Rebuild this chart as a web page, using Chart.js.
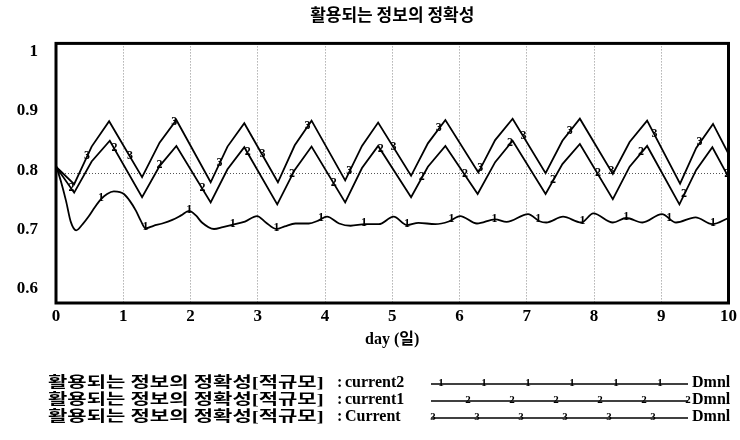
<!DOCTYPE html>
<html>
<head>
<meta charset="utf-8">
<script src="https://cdn.jsdelivr.net/npm/chart.js@4"></script>
<style>
  html, body { margin: 0; padding: 0; background: #fff; }
  #wrap { width: 740px; height: 440px; }
</style>
</head>
<body>
<div id="wrap"><canvas id="c" width="740" height="440"></canvas></div>
<script>
// ---------- data ----------
const chartTitle = '활용되는 정보의 정확성';
const xTitle = 'day (일)';
const unitLabel = 'Dmnl';
const seriesNames = [
  '활용되는 정보의 정확성[적규모] : current2',
  '활용되는 정보의 정확성[적규모] : current1',
  '활용되는 정보의 정확성[적규모] : Current'
];
const xTicks = [0, 1, 2, 3, 4, 5, 6, 7, 8, 9, 10];
const yTicks = [0.6, 0.7, 0.8, 0.9, 1.0];

// series "1" (current2)
const s1Days = [0, 0.08, 0.15, 0.22, 0.30, 0.40, 0.49, 0.58, 0.67, 0.76, 0.86, 0.95, 1.01, 1.10, 1.19, 1.26, 1.33,
  1.45, 1.58, 1.73, 1.86, 1.98, 2.08, 2.17, 2.35, 2.48, 2.62, 2.81, 2.99, 3.12, 3.28, 3.40, 3.56, 3.76, 3.90,
  4.03, 4.21, 4.38, 4.60, 4.80, 5.02, 5.22, 5.39, 5.64, 5.84, 6.01, 6.26, 6.53, 6.70, 7.02, 7.19, 7.29, 7.54,
  7.81, 7.99, 8.28, 8.48, 8.72, 9.01, 9.22, 9.51, 9.76, 10.0];
const s1Vals = [0.812, 0.785, 0.757, 0.725, 0.712, 0.722, 0.734, 0.748, 0.760, 0.768, 0.772, 0.771, 0.768, 0.757, 0.742, 0.727, 0.715,
  0.719, 0.7225, 0.728, 0.735, 0.742, 0.735, 0.724, 0.714, 0.717, 0.7205, 0.7255, 0.734, 0.724, 0.714, 0.718, 0.7225, 0.7225, 0.727,
  0.733, 0.7225, 0.719, 0.7215, 0.7215, 0.733, 0.720, 0.7235, 0.7215, 0.7256, 0.734, 0.7225, 0.729, 0.725, 0.737, 0.726, 0.724, 0.733,
  0.724, 0.738, 0.724, 0.731, 0.724, 0.737, 0.724, 0.732, 0.7215, 0.731];

// series "2" (current1)
const s2Days = [0, 0.27, 0.53, 0.80, 1.28, 1.54, 1.79, 2.30, 2.55, 2.80, 3.29, 3.55, 3.80, 4.30, 4.55, 4.79,
  5.28, 5.53, 5.79, 6.27, 6.53, 6.79, 7.28, 7.53, 7.79, 8.28, 8.53, 8.79, 9.27, 9.52, 9.76, 10.0];
const s2Vals = [0.81, 0.770, 0.818, 0.850, 0.763, 0.811, 0.842, 0.755, 0.806, 0.840, 0.752, 0.805, 0.841, 0.755, 0.808, 0.842,
  0.763, 0.810, 0.842, 0.768, 0.817, 0.850, 0.768, 0.814, 0.845, 0.760, 0.810, 0.842, 0.752, 0.805, 0.840, 0.794];

// series "3" (Current)
const s3Days = [0, 0.27, 0.53, 0.79, 1.28, 1.54, 1.79, 2.30, 2.55, 2.80, 3.30, 3.55, 3.80, 4.30, 4.55, 4.79,
  5.28, 5.53, 5.79, 6.28, 6.53, 6.79, 7.28, 7.53, 7.79, 8.28, 8.53, 8.79, 9.28, 9.52, 9.77, 10.0];
const s3Vals = [0.81, 0.783, 0.841, 0.880, 0.794, 0.847, 0.882, 0.786, 0.841, 0.877, 0.786, 0.843, 0.881, 0.789, 0.842, 0.878,
  0.796, 0.846, 0.882, 0.801, 0.851, 0.884, 0.800, 0.850, 0.884, 0.799, 0.848, 0.881, 0.784, 0.839, 0.876, 0.830];

// where the series numbers are printed along each line (days)
const s1MarkDays = [0.67, 1.33, 1.98, 2.63, 3.28, 3.94, 4.58, 5.22, 5.88, 6.52, 7.17, 7.83, 8.48, 9.12, 9.77];
const s2MarkDays = [0.23, 0.87, 1.54, 2.18, 2.85, 3.51, 4.13, 4.83, 5.44, 6.08, 6.75, 7.39, 8.06, 8.70, 9.34, 9.98];
const s3MarkDays = [0.46, 1.10, 1.76, 2.43, 3.07, 3.74, 4.36, 5.02, 5.69, 6.31, 6.95, 7.64, 8.26, 8.90, 9.57];

// ---------- chart ----------
const SERIF = '"Liberation Serif", "Noto Sans CJK KR", serif';
const KR = '"Noto Sans CJK KR", "Liberation Serif", sans-serif';

const seriesDays = [s1Days, s2Days, s3Days];
const seriesVals = [s1Vals, s2Vals, s3Vals];
const markDays = [s1MarkDays, s2MarkDays, s3MarkDays];

function toPoints(d, v) { return d.map((t, i) => ({ x: t, y: v[i] })); }
function interp(d, v, t) {
  for (let i = 1; i < d.length; i++) {
    if (t <= d[i]) {
      const f = (t - d[i - 1]) / (d[i] - d[i - 1]);
      return v[i - 1] + f * (v[i] - v[i - 1]);
    }
  }
  return v[v.length - 1];
}

const markerPlugin = {
  id: 'lineNumbers',
  afterDatasetsDraw(chart) {
    const ctx = chart.ctx, xs = chart.scales.x, ys = chart.scales.y;
    ctx.save();
    ctx.font = 'bold 12px "Liberation Serif"';
    ctx.fillStyle = '#000';
    ctx.textAlign = 'center';
    ctx.textBaseline = 'middle';
    markDays.forEach((arr, i) => {
      arr.forEach(t => {
        const v = interp(seriesDays[i], seriesVals[i], t);
        ctx.fillText(String(i + 1), xs.getPixelForValue(t), ys.getPixelForValue(v) - 1);
      });
    });
    ctx.restore();
  }
};

const framePlugin = {
  id: 'frame',
  afterDraw(chart) {
    const a = chart.chartArea, ctx = chart.ctx;
    ctx.save();
    ctx.strokeStyle = '#000';
    ctx.lineWidth = 3;
    ctx.strokeRect(a.left, a.top, a.right - a.left, a.bottom - a.top);
    ctx.restore();
  }
};

const legendPlugin = {
  id: 'legendRows',
  afterDraw(chart) {
    const ctx = chart.ctx;
    const rowY = [383, 400, 417];
    const markX = [
      [441, 484, 528, 572, 616, 660],
      [468, 512, 556, 600, 644, 688],
      [433, 477, 521, 565, 609, 653]
    ];
    ctx.save();
    chart.data.datasets.forEach((ds, i) => {
      const y = rowY[i];
      const cut = ds.label.indexOf(']') + 1;
      const head = ds.label.slice(0, cut);
      const tail = ds.label.slice(cut).replace(/^\s*:\s*/, '');
      ctx.fillStyle = '#000';
      ctx.textBaseline = 'middle';
      ctx.textAlign = 'left';
      ctx.font = 'bold 15px ' + SERIF;
      const w = ctx.measureText(head).width;
      const sx = Math.max(1, Math.min(1.4, 286 / w));
      ctx.save();
      ctx.translate(48, y);
      ctx.scale(sx, 1);
      ctx.fillText(head, 0, 0);
      ctx.restore();
      ctx.font = 'bold 16px ' + SERIF;
      ctx.fillText(':', 337, y);
      ctx.fillText(tail, 345, y);
      ctx.fillText(unitLabel, 692, y);
      ctx.strokeStyle = '#000';
      ctx.lineWidth = 1.3;
      ctx.beginPath();
      ctx.moveTo(431, y + 1);
      ctx.lineTo(688, y + 1);
      ctx.stroke();
      ctx.font = 'bold 11px "Liberation Serif"';
      ctx.textAlign = 'center';
      markX[i].forEach(x => ctx.fillText(String(i + 1), x, y));
    });
    ctx.restore();
  }
};

const tickFont = { family: SERIF, size: 17, weight: 'bold' };

new Chart(document.getElementById('c'), {
  type: 'line',
  data: {
    datasets: seriesNames.map((name, i) => ({
      label: name,
      data: toPoints(seriesDays[i], seriesVals[i]),
      borderColor: '#000',
      borderWidth: 1.8,
      pointRadius: 0,
      fill: false,
      tension: 0,
      cubicInterpolationMode: i === 0 ? 'monotone' : 'default'
    }))
  },
  options: {
    responsive: false,
    animation: false,
    devicePixelRatio: 1,
    layout: { padding: { left: 0, right: 9, top: 0, bottom: 91 } },
    plugins: {
      legend: { display: false },
      tooltip: { enabled: false },
      title: {
        display: true,
        fullSize: false,
        text: chartTitle,
        color: '#000',
        font: { family: KR, size: 17, weight: 'bold' },
        padding: { top: 4, bottom: 19 }
      }
    },
    scales: {
      x: {
        type: 'linear',
        min: 0, max: 10,
        afterBuildTicks: s => { s.ticks = xTicks.map(v => ({ value: v })); },
        afterFit: s => { s.height = 46; },
        ticks: { font: tickFont, color: '#000', padding: 3, maxRotation: 0, autoSkip: false },
        grid: {
          drawTicks: false,
          lineWidth: 1,
          color: c => (c.tick && c.tick.value > 0 && c.tick.value < 10) ? '#8a8a8a' : 'rgba(0,0,0,0)'
        },
        border: { display: false, dash: [1, 2] },
        title: {
          display: true, text: xTitle, color: '#000',
          font: { family: SERIF, size: 16, weight: 'bold' },
          padding: { top: 0, bottom: 0 }
        }
      },
      y: {
        type: 'linear',
        position: 'left',
        weight: 0,
        min: 0.6, max: 1.0,
        afterBuildTicks: s => { s.ticks = yTicks.map(v => ({ value: v })); },
        afterFit: s => { s.width = 0; },
        ticks: { display: false },
        grid: {
          drawTicks: false,
          lineWidth: 1,
          color: c => (c.tick && Math.abs(c.tick.value - 0.8) < 1e-6) ? '#555' : 'rgba(0,0,0,0)'
        },
        border: { display: false, dash: [1, 2] }
      },
      yl: {
        type: 'linear',
        position: 'left',
        weight: 1,
        min: 0.5764, max: 1.0135,
        afterBuildTicks: s => { s.ticks = yTicks.map(v => ({ value: v })); },
        afterFit: s => { s.width = 56; },
        ticks: {
          font: tickFont, color: '#000', padding: 18,
          callback: v => (v === 1 ? '1' : Number(v).toFixed(1))
        },
        grid: { display: false, drawTicks: false },
        border: { display: false }
      }
    }
  },
  plugins: [markerPlugin, framePlugin, legendPlugin]
});
</script>
</body>
</html>
